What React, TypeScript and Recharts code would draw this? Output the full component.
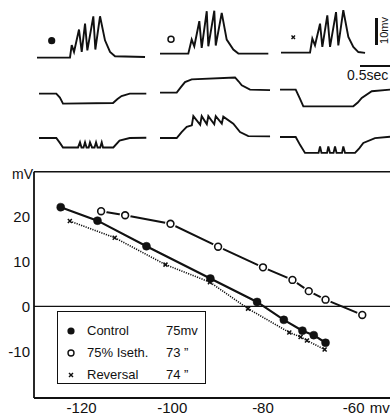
import { LineChart, Line, XAxis, YAxis, ReferenceLine, Legend } from "recharts"

// amplitude (mV) against membrane potential (mV)
const controlX = [-124.6, -116.5, -105.7, -91.6, -81.3, -75.4, -71.3, -68.8, -66.2]
const controlY = [22.1, 19.1, 13.4, 6.2, 1.0, -3.0, -5.4, -6.4, -8.1]
const isethX = [-115.7, -110.4, -100.4, -89.9, -80.0, -73.5, -69.9, -66.2, -58.1]
const isethY = [21.2, 20.3, 18.4, 13.3, 8.7, 5.9, 3.4, 1.5, -1.9]
const reversalX = [-122.6, -112.7, -101.5, -91.7, -83.3, -74.2, -71.7, -70.3, -66.4]
const reversalY = [19.0, 15.3, 9.3, 5.4, -0.5, -5.8, -6.8, -7.6, -9.6]

const xTicks = [-120, -100, -80, -60]
const yTicks = [-10, 0, 10, 20]
const legendNames = ["Control", "75% Iseth.", "Reversal"]
const legendValues = ["75mv", "73 \u201d", "74 \u201d"]

// oscilloscope traces: [time (s), mV from baseline]
const spikesControl: [number, number][] = [
  [0, 0], [0.458, 0], [0.482, 4.6], [0.514, 2.1], [0.583, 10.4], [0.621, 2.1], [0.667, 12.6],
  [0.699, 2.7], [0.782, 15.3], [0.81, 3.0], [0.875, 15.3], [0.944, 6.4], [1.014, 2.1],
  [1.083, 0.5], [1.5, 0.2],
]
const spikesIseth: [number, number][] = [
  [0, 0], [0.393, 0], [0.44, 5.2], [0.476, 2.7], [0.546, 12.0], [0.579, 2.1], [0.649, 15.7],
  [0.671, 2.7], [0.754, 15.9], [0.774, 3.0], [0.857, 15.1], [0.926, 5.2], [1.018, 1.5],
  [1.088, 0], [1.504, 0],
]
const spikesReversal: [number, number][] = [
  [0, 0], [0.403, 0], [0.435, 5.2], [0.472, 2.7], [0.542, 10.7], [0.574, 2.1], [0.643, 13.8],
  [0.681, 2.1], [0.764, 15.0], [0.796, 2.7], [0.865, 15.7], [0.935, 5.8], [1.004, 2.1],
  [1.074, 0.2], [1.167, -0.1],
]
const stepControl: [number, number][] = [
  [0, 0], [0.24, 0], [0.29, -1.5], [0.333, -3.7], [1.028, -3.5], [1.09, -2.0], [1.146, -0.9],
  [1.26, 0], [1.49, 0],
]
const stepIseth: [number, number][] = [
  [0, 0], [0.232, 0], [0.29, 2.0], [0.347, 3.9], [0.44, 4.9], [1.042, 5.6], [1.09, 4.2],
  [1.135, 2.7], [1.25, 1.1], [1.528, 0.9],
]
const stepReversal: [number, number][] = [
  [0, 0], [0.218, 0], [0.27, -3.0], [0.324, -6.2], [1.018, -6.2], [1.08, -4.8], [1.135, -3.1],
  [1.274, -0.6], [1.528, 0],
]
const bumpsControl: [number, number][] = [
  [0, 0], [0.24, 0], [0.29, -1.8], [0.333, -3.5], [0.542, -3.5], [0.569, -1.6], [0.59, -3.5],
  [0.618, -3.5], [0.639, -1.6], [0.66, -3.5], [0.69, -3.5], [0.708, -1.6], [0.736, -3.5],
  [0.771, -3.5], [0.792, -1.6], [0.813, -3.5], [0.85, -3.5], [0.871, -1.6], [0.889, -3.5],
  [1.032, -3.5], [1.118, -1.0], [1.26, 0], [1.49, 0.1],
]
const bumpsIseth: [number, number][] = [
  [0, 0], [0.232, 0], [0.3, 2.2], [0.371, 4.1], [0.442, 4.7], [0.463, 8.1], [0.558, 4.9],
  [0.579, 8.1], [0.65, 5.1], [0.671, 8.1], [0.753, 5.1], [0.774, 8.1], [0.858, 5.3],
  [0.879, 7.9], [1.018, 5.3], [1.111, 2.2], [1.226, 0.7], [1.528, 0.6],
]
const bumpsReversal: [number, number][] = [
  [0, 0], [0.218, 0], [0.28, -3.0], [0.347, -5.9], [0.535, -5.9], [0.556, -3.5], [0.576, -5.9],
  [0.653, -5.9], [0.671, -3.5], [0.694, -5.9], [0.743, -5.9], [0.764, -3.5], [0.785, -5.9],
  [0.861, -5.9], [0.879, -3.5], [0.903, -5.9], [1.042, -5.9], [1.1, -4.2], [1.157, -2.2],
  [1.319, -0.4], [1.528, 0.1],
]

const INK = "#111"
const FONT = "'Liberation Sans', Arial, sans-serif"

const toRows = (xs: number[], ys: number[]) => xs.map((x, i) => ({ x, y: ys[i] }))

function Trace({ data, left, top, height, domain }: {
  data: [number, number][]; left: number; top: number; height: number; domain: [number, number]
}) {
  const rows = data.map(([t, v]) => ({ t, v }))
  return (
    <div style={{ position: "absolute", left, top }}>
      <LineChart width={112} height={height} data={rows} margin={{ top: 0, right: 0, bottom: 0, left: 0 }}>
        <XAxis type="number" dataKey="t" domain={[0, 1.555]} allowDataOverflow hide />
        <YAxis type="number" domain={domain} allowDataOverflow hide />
        <Line type="linear" dataKey="v" stroke={INK} strokeWidth={1.9} dot={false} isAnimationActive={false} />
      </LineChart>
    </div>
  )
}

const ROW1: [number, number] = [-2, 18]
const ROW2: [number, number] = [-8, 8]
const ROW3: [number, number] = [-8, 10]

function XTick({ x, y, payload }: any) {
  return (
    <g fill={INK} fontSize={15} fontFamily={FONT}>
      <text x={x} y={y} dy="0.8em" textAnchor="middle">{payload.value}</text>
      {payload.value === -60 && <text x={x + 16} y={y} dy="0.8em">mv</text>}
    </g>
  )
}

const openDot = (p: any) => (
  <g key={`o-${p.index}`}>
    <circle cx={p.cx} cy={p.cy} r={5.5} fill="#fff" />
    <circle cx={p.cx} cy={p.cy} r={3.4} fill="#fff" stroke={INK} strokeWidth={1.6} />
  </g>
)
const crossDot = (p: any) => (
  <g key={`x-${p.index}`} stroke={INK} strokeWidth={1.5}>
    <line x1={p.cx - 2} y1={p.cy - 2} x2={p.cx + 2} y2={p.cy + 2} />
    <line x1={p.cx + 2} y1={p.cy - 2} x2={p.cx - 2} y2={p.cy + 2} />
  </g>
)

function Marker({ i }: { i: number }) {
  return (
    <svg width={10} height={10} style={{ position: "absolute", left: 8, top: 3 }}>
      {i === 0 && <circle cx={5} cy={5} r={3.6} fill={INK} />}
      {i === 1 && <circle cx={5} cy={5} r={3} fill="#fff" stroke={INK} strokeWidth={1.4} />}
      {i === 2 && (
        <g stroke={INK} strokeWidth={1.4}>
          <line x1={3} y1={3} x2={7} y2={7} />
          <line x1={7} y1={3} x2={3} y2={7} />
        </g>
      )}
    </svg>
  )
}

function LegendBox() {
  return (
    <div style={{
      width: 149, height: 73, boxSizing: "border-box", border: `1.4px solid ${INK}`,
      background: "#fff", position: "relative", fontFamily: FONT, fontSize: 13, color: INK,
    }}>
      {legendNames.map((name, i) => (
        <div key={name} style={{ position: "absolute", left: 0, top: 11 + 22 * i, width: 148, height: 16, lineHeight: "16px" }}>
          <Marker i={i} />
          <span style={{ position: "absolute", left: 29 }}>{name}</span>
          <span style={{ position: "absolute", left: 108 }}>{legendValues[i]}</span>
        </div>
      ))}
    </div>
  )
}

export default function App() {
  return (
    <div style={{
      position: "absolute", left: 0, top: 0, width: 390, height: 418, overflow: "hidden",
      background: "#fff", fontFamily: FONT, color: INK,
    }}>
      <Trace data={spikesControl} left={37} top={8.7} height={54} domain={ROW1} />
      <Trace data={spikesIseth} left={160} top={5.4} height={54} domain={ROW1} />
      <Trace data={spikesReversal} left={281} top={3.7} height={54} domain={ROW1} />
      <Trace data={stepControl} left={39} top={71.7} height={43.2} domain={ROW2} />
      <Trace data={stepIseth} left={160} top={70.7} height={43.2} domain={ROW2} />
      <Trace data={stepReversal} left={280} top={68.4} height={43.2} domain={ROW2} />
      <Trace data={bumpsControl} left={39} top={111.3} height={48.6} domain={ROW3} />
      <Trace data={bumpsIseth} left={160} top={110.7} height={48.6} domain={ROW3} />
      <Trace data={bumpsReversal} left={280} top={110.3} height={48.6} domain={ROW3} />

      {/* trace symbols */}
      <svg width={390} height={60} style={{ position: "absolute", left: 0, top: 0 }}>
        <circle cx={51.7} cy={40.7} r={3.6} fill={INK} />
        <circle cx={171} cy={39.3} r={3} fill="#fff" stroke={INK} strokeWidth={1.5} />
        <g stroke={INK} strokeWidth={1.4}>
          <line x1={291.5} y1={35.5} x2={295} y2={39} />
          <line x1={295} y1={35.5} x2={291.5} y2={39} />
        </g>
      </svg>

      {/* calibration bars */}
      <div style={{ position: "absolute", left: 375, top: 18, width: 2.6, height: 27, background: INK }} />
      <div style={{
        position: "absolute", left: 370, top: 25, width: 28, fontSize: 11, lineHeight: "11px",
        transform: "rotate(-90deg)", textAlign: "center",
      }}>10mv</div>
      <div style={{ position: "absolute", left: 360, top: 64.5, width: 36, height: 2, background: INK }} />
      <div style={{ position: "absolute", left: 347, top: 67, fontSize: 14, whiteSpace: "nowrap" }}>0.5sec</div>

      <div style={{ position: "absolute", left: 12, top: 166, fontSize: 14 }}>mV</div>

      <div style={{ position: "absolute", left: 0, top: 150 }}>
        <LineChart width={410} height={268} margin={{ top: 21.7, right: 11, bottom: 0, left: 0 }}>
          <XAxis
            type="number" dataKey="x" domain={[-130.5, -50]} ticks={xTicks} allowDataOverflow
            height={20} tickSize={0} tickMargin={3} tickLine={false}
            axisLine={{ stroke: INK, strokeWidth: 1.8 }} tick={<XTick />}
          />
          <XAxis
            xAxisId="inB" type="number" domain={[-130.5, -50]} ticks={xTicks} allowDataOverflow
            mirror tick={false} axisLine={false} tickSize={5} tickLine={{ stroke: INK, strokeWidth: 1.5 }}
          />
          <XAxis
            xAxisId="top" orientation="top" type="number" domain={[-130.5, -50]} ticks={xTicks}
            allowDataOverflow mirror tick={false} tickSize={5}
            axisLine={{ stroke: INK, strokeWidth: 1.6 }} tickLine={{ stroke: INK, strokeWidth: 1.5 }}
          />
          <YAxis
            type="number" domain={[-20.4, 30]} ticks={yTicks} allowDataOverflow width={34}
            tickSize={0} tickMargin={4} tickLine={false}
            axisLine={{ stroke: INK, strokeWidth: 1.8 }}
            tick={{ fontSize: 15, fill: INK, fontFamily: FONT }}
          />
          <YAxis
            yAxisId="inL" type="number" domain={[-20.4, 30]} ticks={yTicks} allowDataOverflow
            mirror tick={false} axisLine={false} tickSize={5} tickLine={{ stroke: INK, strokeWidth: 1.5 }}
          />
          <ReferenceLine y={0} stroke={INK} strokeWidth={1.2} />
          <Line
            data={toRows(isethX, isethY)} dataKey="y" type="linear" stroke={INK} strokeWidth={2}
            dot={openDot} isAnimationActive={false}
          />
          <Line
            data={toRows(controlX, controlY)} dataKey="y" type="linear" stroke={INK} strokeWidth={2.2}
            dot={{ r: 4, fill: INK, stroke: INK, strokeWidth: 0.5 }} isAnimationActive={false}
          />
          <Line
            data={toRows(reversalX, reversalY)} dataKey="y" type="linear" stroke={INK} strokeWidth={1.6}
            strokeDasharray="1.2 1.2" dot={crossDot} isAnimationActive={false}
          />
          <Legend
            layout="vertical" align="center" verticalAlign="middle" content={<LegendBox />}
            wrapperStyle={{ position: "absolute", left: 57, top: 161, width: 149, height: 73 }}
          />
        </LineChart>
      </div>
    </div>
  )
}
